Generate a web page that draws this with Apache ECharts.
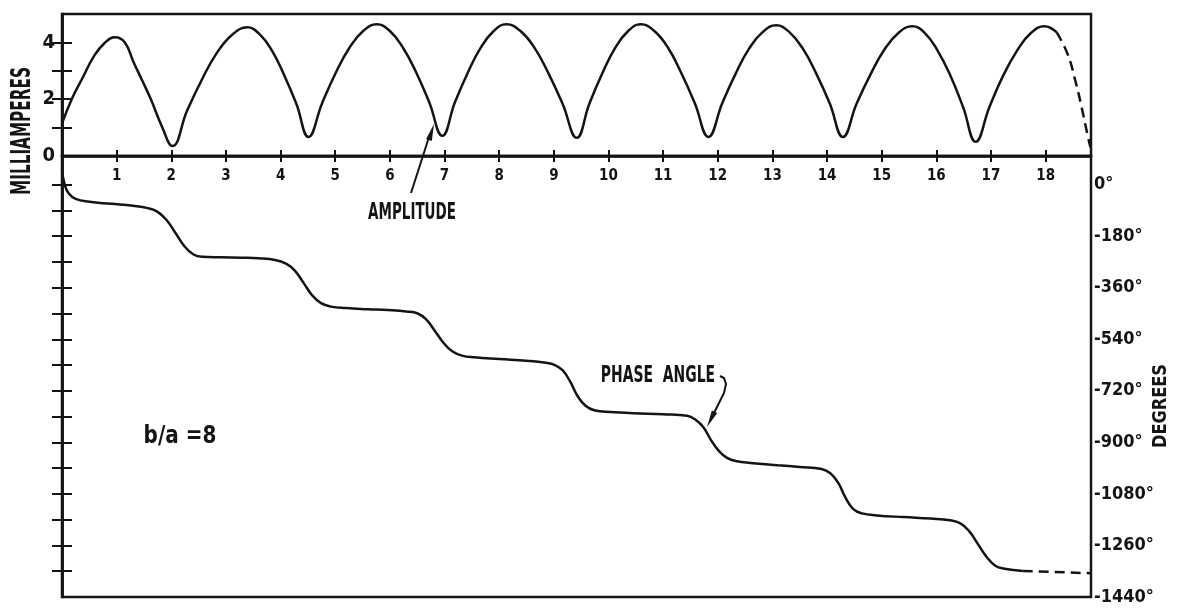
<!DOCTYPE html>
<html>
<head>
<meta charset="utf-8">
<script src="https://cdn.jsdelivr.net/npm/echarts@6/dist/echarts.min.js"></script>
<style>
  html, body { margin: 0; padding: 0; background: #fff; }
  #chart { width: 1186px; height: 612px; }
</style>
</head>
<body>
<div id="chart"></div>
<script>
// amplitude (mA) vs x
const ampSolid = [
  [0, 1.15], [0.19, 2.05], [0.39, 2.8], [0.58, 3.5], [0.78, 3.98], [0.97, 4.18],
  [1.15, 4.0], [1.31, 3.3], [1.47, 2.65], [1.63, 1.98], [1.83, 1.03], [2.02, 0.35],
  [2.29, 1.60], [2.57, 2.73], [2.84, 3.65], [3.12, 4.28], [3.39, 4.53],
  [3.61, 4.30], [3.84, 3.72], [4.06, 2.87], [4.29, 1.83], [4.51, 0.67],
  [4.76, 1.86], [5.01, 2.93], [5.26, 3.81], [5.51, 4.40], [5.76, 4.64],
  [6.00, 4.40], [6.24, 3.81], [6.48, 2.95], [6.72, 1.89], [6.96, 0.71],
  [7.19, 1.89], [7.43, 2.95], [7.66, 3.81], [7.90, 4.40], [8.13, 4.64],
  [8.39, 4.40], [8.65, 3.80], [8.90, 2.92], [9.16, 1.84], [9.42, 0.64],
  [9.65, 1.84], [9.89, 2.92], [10.12, 3.80], [10.36, 4.40], [10.59, 4.64],
  [10.84, 4.40], [11.09, 3.81], [11.33, 2.93], [11.58, 1.86], [11.83, 0.67],
  [12.08, 1.85], [12.33, 2.91], [12.57, 3.77], [12.82, 4.36], [13.07, 4.60],
  [13.31, 4.36], [13.56, 3.77], [13.80, 2.91], [14.05, 1.85], [14.29, 0.67],
  [14.54, 1.84], [14.80, 2.89], [15.05, 3.75], [15.31, 4.34], [15.56, 4.57],
  [15.79, 4.33], [16.02, 3.72], [16.26, 2.82], [16.49, 1.72], [16.72, 0.50],
  [16.97, 1.72], [17.22, 2.82], [17.48, 3.72], [17.73, 4.33], [17.98, 4.57],
  [18.20, 4.36]
];
const ampDashed = [[18.20, 4.36], [18.40, 3.6], [18.55, 2.6], [18.66, 1.7], [18.76, 0.8], [18.82, 0.3]];

// phase angle (degrees) vs x
const phaseSolid = [
  [0, 50], [0.05, 0], [0.12, -30], [0.25, -50], [0.5, -60], [0.9, -67], [1.3, -74], [1.57, -82],
  [1.75, -95], [1.92, -125], [2.08, -170], [2.24, -215], [2.40, -243], [2.56, -252],
  [2.9, -254], [3.3, -255], [3.6, -257], [3.9, -263],
  [4.1, -276], [4.26, -300], [4.42, -343], [4.58, -387], [4.74, -414], [4.92, -426],
  [5.2, -431], [5.6, -435], [5.96, -438], [6.3, -443], [6.51, -450],
  [6.66, -470], [6.82, -510], [6.98, -552], [7.14, -582], [7.32, -597], [7.55, -603],
  [8.0, -609], [8.5, -615], [8.85, -622],
  [9.02, -630], [9.16, -648], [9.30, -688], [9.44, -740], [9.58, -772], [9.74, -788],
  [9.95, -793], [10.45, -798], [11.0, -802], [11.44, -807],
  [11.6, -822], [11.74, -848], [11.88, -893], [12.02, -930], [12.17, -954], [12.35, -966],
  [12.6, -972], [13.1, -980], [13.5, -986], [13.9, -993],
  [14.06, -1008], [14.2, -1040], [14.34, -1094], [14.48, -1133], [14.64, -1148],
  [14.91, -1155], [15.4, -1161], [15.9, -1166], [16.25, -1172],
  [16.44, -1183], [16.6, -1210], [16.76, -1255], [16.92, -1300], [17.08, -1331],
  [17.25, -1341], [17.58, -1349]
];
const phaseDashed = [[17.58, -1349], [18.83, -1357]];

const xTicks = [1, 2, 3, 4, 5, 6, 7, 8, 9, 10, 11, 12, 13, 14, 15, 16, 17, 18];
const maTicks = [1, 2, 3, 4];
const maLabels = [0, 2, 4];
const degTicks = [0, -90, -180, -270, -360, -450, -540, -630, -720, -810, -900, -990, -1080, -1170, -1260, -1350];
const degLabels = [0, -180, -360, -540, -720, -900, -1080, -1260, -1440];

const INK = '#141414';
const NARROW = "'Liberation Sans Narrow', 'DejaVu Sans Condensed', sans-serif";

const chart = echarts.init(document.getElementById('chart'));

const lineBase = {
  type: 'line',
  showSymbol: false,
  symbol: 'none',
  smooth: 0.45,
  animation: false,
  lineStyle: { color: INK, width: 2.5 }
};

function label(text, x, y, size, sy, extra) {
  return Object.assign({
    type: 'text', x: x, y: y, scaleY: sy, z: 10,
    style: { text: text, fill: INK, fontSize: size, fontWeight: 'bold', fontFamily: NARROW,
      textAlign: 'center', textVerticalAlign: 'middle', align: 'center', verticalAlign: 'middle' }
  }, extra || {});
}

chart.setOption({
  backgroundColor: '#fff',
  grid: [
    { left: 62, top: 14, width: 1029, height: 142, show: true, borderColor: INK, borderWidth: 2.5 },
    { left: 62, top: 156, width: 1029, height: 441, show: true, borderColor: INK, borderWidth: 2.5 }
  ],
  xAxis: [
    {
      gridIndex: 0, type: 'value', min: 0, max: 18.83, position: 'bottom',
      axisLine: { show: true, lineStyle: { color: INK, width: 2.5 } },
      axisTick: { show: true, inside: false, length: 6, customValues: xTicks, lineStyle: { color: INK, width: 2 } },
      axisLabel: { show: true, customValues: xTicks, margin: 13, color: INK, fontSize: 15, fontWeight: 'bold', fontFamily: NARROW },
      splitLine: { show: false }
    },
    {
      gridIndex: 0, type: 'value', min: 0, max: 18.83, position: 'bottom',
      axisLine: { show: false },
      axisTick: { show: true, inside: true, length: 6, customValues: xTicks, lineStyle: { color: INK, width: 2 } },
      axisLabel: { show: false },
      splitLine: { show: false }
    },
    { gridIndex: 1, type: 'value', min: 0, max: 18.83, show: false }
  ],
  yAxis: [
    {
      gridIndex: 0, type: 'value', min: 0, max: 5, position: 'left',
      axisLine: { show: true, lineStyle: { color: INK, width: 2.5 } },
      axisTick: { show: true, inside: true, length: 10, customValues: maTicks, lineStyle: { color: INK, width: 2 } },
      axisLabel: { show: true, customValues: maLabels, margin: 7, color: INK, fontSize: 20, fontWeight: 'bold', fontFamily: NARROW },
      splitLine: { show: false }
    },
    {
      gridIndex: 0, type: 'value', min: 0, max: 5, position: 'right',
      axisLine: { show: true, lineStyle: { color: INK, width: 2.5 } },
      axisTick: { show: true, inside: true, length: 10, customValues: maTicks, lineStyle: { color: INK, width: 2 } },
      axisLabel: { show: false },
      splitLine: { show: false }
    },
    {
      gridIndex: 1, type: 'value', min: -1440, max: 100, position: 'right',
      axisLine: { show: true, lineStyle: { color: INK, width: 2.5 } },
      axisTick: { show: true, inside: true, length: 10, customValues: degTicks, lineStyle: { color: INK, width: 2 } },
      axisLabel: {
        show: true, customValues: degLabels, margin: 3, color: INK, fontSize: 18, fontWeight: 'bold', fontFamily: NARROW,
        formatter: v => v + '°'
      },
      splitLine: { show: false }
    },
    {
      gridIndex: 1, type: 'value', min: -1440, max: 100, position: 'left',
      axisLine: { show: true, lineStyle: { color: INK, width: 2.5 } },
      axisTick: { show: true, inside: true, length: 10, customValues: degTicks, lineStyle: { color: INK, width: 2 } },
      axisLabel: { show: false },
      splitLine: { show: false }
    }
  ],
  series: [
    Object.assign({}, lineBase, { name: 'amplitude', xAxisIndex: 0, yAxisIndex: 0, data: ampSolid }),
    Object.assign({}, lineBase, { name: 'amplitude ext', xAxisIndex: 0, yAxisIndex: 0, data: ampDashed,
      lineStyle: { color: INK, width: 2.5, type: [10, 6] } }),
    Object.assign({}, lineBase, { name: 'phase', xAxisIndex: 2, yAxisIndex: 2, data: phaseSolid }),
    Object.assign({}, lineBase, { name: 'phase ext', xAxisIndex: 2, yAxisIndex: 2, data: phaseDashed, smooth: false,
      lineStyle: { color: INK, width: 2.5, type: [10, 6] } })
  ],
  graphic: [
    label('MILLIAMPERES', 23, 131, 17, 1.6, { rotation: Math.PI / 2 }),
    label('DEGREES', 1161, 406, 18, 1.1, { rotation: Math.PI / 2 }),
    label('AMPLITUDE', 412, 213, 15, 1.5),
    label('PHASE  ANGLE', 658, 376, 15.5, 1.5),
    { type: 'text', x: 180, y: 437, scaleY: 1.2, z: 10,
      style: { text: 'b/a =8', fill: INK, fontSize: 20, fontWeight: 'bold', fontFamily: "'DejaVu Sans', sans-serif",
        textAlign: 'center', textVerticalAlign: 'middle', align: 'center', verticalAlign: 'middle' } },
    // amplitude pointer
    { type: 'polyline', z: 10, shape: { points: [[411, 193], [430, 134]] },
      style: { stroke: INK, lineWidth: 2, fill: null } },
    { type: 'polygon', z: 10, shape: { points: [[434, 124], [431.8, 141], [426.1, 139]] },
      style: { fill: INK } },
    // phase pointer
    { type: 'polyline', z: 10, shape: { points: [[720, 376], [724, 378], [726, 384], [724, 393], [714, 413]] },
      style: { stroke: INK, lineWidth: 2, fill: null } },
    { type: 'polygon', z: 10, shape: { points: [[707, 427], [717.3, 413.1], [711.9, 410.5]] },
      style: { fill: INK } }
  ]
});
</script>
</body>
</html>
